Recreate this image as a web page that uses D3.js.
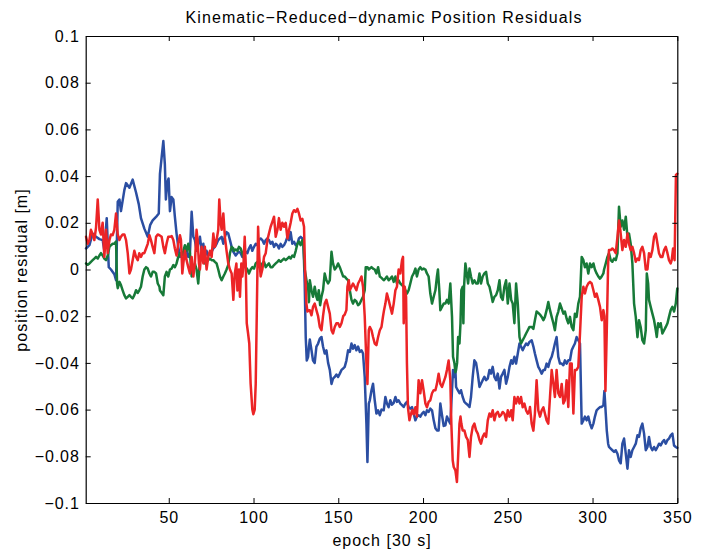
<!DOCTYPE html>
<html>
<head>
<meta charset="utf-8">
<script src="https://cdn.jsdelivr.net/npm/d3@7"></script>
<style>
  html, body { margin: 0; padding: 0; background: #fff; }
  svg { display: block; }
  text { font-family: "Liberation Sans", Arial, Helvetica, sans-serif; fill: #000; }
</style>
</head>
<body>
<svg id="chart" width="708" height="551"></svg>
<script>
// Residual series: [epoch, residual in millimetres]
const blueRes = [
  [1.2,9],[3.2,10.4],[5.1,15.4],[7.1,14],[9.1,13],[11.0,12.6],[12.0,8],[13.4,22],[14.6,1],[15.9,0],[17.9,-2],[18.9,-4.6],[19.9,29],[20.9,30],[21.8,25],[23.8,34],[24.8,37],[26.8,35],[28.7,38.5],[30.7,33],[32.3,28],[33.6,22],[35.6,17.5],[37.6,14],[39.0,19],[40.5,21],[42.5,22.5],[44.1,24],
  [44.8,41],[45.8,48],[46.8,55],[47.7,45],[48.3,30],[49.1,37],[49.9,39],[50.7,25],[51.7,31],[52.7,30],[53.6,22.6],[54.6,15.4],[55.6,9.7],[56.6,5.4],[57.6,7],[58.6,7.6],[59.5,4.7],[60.5,8],[61.5,5.4],[62.5,7],[63.5,24.7],[64.5,14],[65.4,12.6],[66.4,8],[67.4,11],[68.4,14],[69.4,8],[70.4,11],[71.3,5.4],[72.3,8],[73.3,6],[74.3,7],[75.3,7.6],[76.3,9],[77.2,9.7],[78.2,11],[79.2,12.6],[80.2,13.3],[81.2,14],[82.2,11],[83.1,14],[84.1,16],[85.1,15.4],[86.1,12.6],[87.1,9.7],[88.1,7.6],
  [89.5,6],[90.5,7],[91.4,7.6],[92.4,7],[93.4,5.4],[94.4,6],[95.4,7.6],[96.4,7],[97.3,9],[98.3,10.4],[99.3,8],[100.3,9.7],[101.3,11],[102.3,10.4],[103.2,12.6],[104.2,13.3],[105.2,12.6],[106.2,11],[107.2,12.6],[108.2,13.3],[109.1,12.6],[110.1,11],[111.1,11.9],[112.1,9.7],[113.1,11],[114.1,10.4],[115.0,9],[116.0,11],[117.0,9.7],[118.0,10.4],[119.0,11.9],[120.0,14],[121.0,12.6],[121.9,16],[122.9,11],[123.9,11.9],[124.9,10.4],[125.9,11],[126.8,13.3],[127.8,14],[128.8,13.3],[129.4,12.6],[130.2,-6],[130.8,-29],[131.4,-39],[132.2,-37.4],[132.7,-33],
  [133.2,-30],[134.2,-34.6],[135.1,-39],[136.1,-40],[137.1,-33],[138.1,-31.7],[139.1,-29.6],[140.1,-28.9],[141.0,-33],[142.0,-36],[143.0,-34.6],[144.0,-40],[145.0,-43],[146.0,-49],[146.9,-46.7],[147.9,-46],[148.9,-45],[149.9,-46],[150.9,-44.6],[151.9,-43],[152.9,-42.4],[153.8,-41.7],[154.8,-39],[155.8,-34.6],[156.8,-35.3],[157.8,-31.7],[158.7,-33.9],[159.7,-32.4],[160.7,-34.6],[161.7,-33],[162.7,-35.3],[163.7,-34.6],[164.6,-36],[165.6,-46],[166.6,-66],[167.2,-82.4],[168.0,-57.4],[168.6,-56],[169.6,-51.7],[170.5,-48.9],[171.5,-56],[172.5,-61.7],[173.5,-60.3],[174.5,-62.4],[175.5,-60],
  [176.8,-60.3],[177.8,-54.6],[178.7,-57.4],[179.7,-59],[180.7,-56],[181.7,-57.9],[182.7,-57.1],[183.7,-54.6],[184.6,-56.7],[185.6,-56],[186.6,-57.4],[187.6,-58.1],[188.6,-58.9],[189.6,-57.4],[190.5,-56.7],[191.5,-58.9],[192.5,-59.6],[193.5,-58.9],[194.5,-61.7],[195.5,-64.6],[196.4,-63],[197.4,-62.4],[198.4,-63],[199.4,-61.7],[200.4,-61],[201.4,-62.4],[202.3,-60.3],[203.3,-61],[204.3,-59.6],[205.3,-60.3],[206.3,-64.6],[207.3,-68],[208.2,-68.9],[209.2,-68.9],[210.2,-57.4],[211.2,-62.4],[212.2,-67],[213.2,-66.7],[214.1,-63],[215.1,-64.6],[216.1,-66],[217.1,-51.7],[217.7,-43],[218.5,-46],[219.1,-43],
  [219.5,-50.3],[220.5,-51.7],[221.5,-53],[222.4,-51.7],[223.4,-54.6],[224.4,-56.7],[225.4,-57.4],[226.4,-58],[227.4,-58.9],[228.3,-54.6],[229.3,-46],[230.3,-38.9],[231.3,-40],[232.3,-44.6],[233.3,-50.3],[234.2,-48.9],[235.2,-47.4],[236.2,-46],[237.2,-47.4],[238.2,-46.7],[239.2,-43],[240.1,-44.6],[241.1,-41.7],[242.1,-46],[243.1,-47.4],[244.1,-44.6],[245.1,-51],[246.0,-46],[247.0,-44.6],[248.0,-43],[249.0,-48.9],[250.0,-46],[251.0,-41.7],[252.0,-38.9],[252.9,-40.3],[253.9,-37.4],[254.9,-40.3],[255.9,-36],[256.9,-31.7],[257.8,-33],[258.8,-34.6],[259.8,-33],[260.8,-31.7],[261.8,-32.4],[262.8,-31],
  [264.1,-30.3],[265.1,-33],[266.0,-36],[267.0,-38.9],[268.0,-41.7],[269.0,-43],[270.0,-44.6],[271.0,-43],[271.9,-43],[272.9,-40.3],[273.9,-41.7],[274.9,-38.9],[275.9,-37.4],[276.9,-34.6],[277.8,-31.7],[278.8,-28.9],[279.8,-37.4],[280.8,-40.3],[281.8,-40.3],[282.8,-41],[283.7,-38.9],[284.7,-40.3],[285.7,-38.9],[286.7,-38.9],[287.7,-34.6],[288.7,-33],[289.6,-31.7],[290.6,-28.9],[291.6,-30.3],[292.6,-31.7],[293.6,-66],[294.6,-64.6],[295.5,-63],[296.5,-64.6],[297.5,-63],[298.5,-66],[299.5,-68],[300.5,-66],[301.4,-63],[302.4,-60.3],[303.4,-59.6],[304.4,-58.9],[305.4,-58.9],[306.4,-58.1],
  [307.0,-52],[307.8,-61.7],[308.4,-69],[309.2,-74.6],[309.7,-76],[310.7,-76.7],[311.7,-77.4],[312.7,-78.1],[313.7,-77.4],[314.7,-78.9],[315.6,-81.7],[316.6,-83],[317.6,-74.6],[318.6,-72.4],[319.6,-78.9],[320.6,-85.3],[321.5,-77.4],[322.5,-80.3],[323.5,-77.4],[324.5,-76],[325.5,-74.6],[326.5,-71],[327.4,-71.7],[328.4,-68],[329.4,-66],[330.4,-70.3],[331.4,-77.4],[332.4,-76],[333.3,-71.7],[334.3,-76],[335.3,-77.4],[336.3,-76],[337.3,-77.4],[338.3,-76],[339.2,-74.6],[340.2,-75.3],[341.2,-73.9],[342.2,-73],[343.2,-74.6],[344.2,-73],[345.1,-72.4],[346.1,-71],[347.1,-70.3],[348.1,-75.4],[349.1,-76],[350,-76.4]
];

const greenRes = [
  [1.2,2.6],[2.2,2],[3.2,2.6],[4.1,3.3],[5.1,4],[6.1,4.7],[7.1,5.4],[8.1,4.7],[9.1,6],[10.0,7],[11.0,6],[12.0,4.7],[13.0,4],[14.0,6],[15.0,9.7],[15.9,10.4],[16.9,11],[17.9,11],[18.9,12],[19.5,-6],[19.9,-8],[20.9,-5.3],[21.8,-6.7],[22.8,-8.9],[23.8,-11],[24.8,-12.4],[25.8,-11.7],[26.8,-11],[27.7,-11.7],[28.7,-12.4],[29.7,-11],[30.7,-8.9],[31.7,-10],[32.6,-8.9],[33.6,-7.4],[34.6,-3],[35.6,0],[36.6,1],[37.6,0.4],[38.6,-1.7],[39.5,-3],[40.5,-1],[41.5,-1],[42.5,-1.7],[43.5,-6],[44.5,-7.4],
  [44.8,-9],[45.8,-10],[46.8,-11],[47.7,-3],[48.7,-1],[49.7,-3],[50.7,0],[51.7,0.4],[52.7,1.9],[53.6,1],[54.6,2.6],[55.6,5.4],[56.6,7],[57.6,6],[58.6,8],[59.5,10.4],[60.5,8],[61.5,11],[62.5,7],[63.5,-3],[64.5,1],[65.4,2.6],[66.4,0],[67.4,-6],[68.4,4],[69.4,5.4],[70.4,4],[71.3,2.6],[72.3,3.3],[73.3,4],[74.3,4.7],[75.3,4],[76.3,4],[77.2,3.3],[78.2,2.6],[79.2,0],[80.2,-3],[81.2,-4.6],[82.2,-3],[83.1,-1.7],[84.1,0],[85.1,1.9],[86.1,7],[87.1,9.7],[88.1,9],
  [88.5,8],[89.5,8.6],[90.5,8],[91.4,9.7],[92.4,9],[93.4,6.9],[94.4,4.7],[95.4,1],[96.4,0],[97.3,-1.7],[98.3,0],[99.3,1],[100.3,0.4],[101.3,2.6],[102.3,3.3],[103.2,2.6],[104.2,1],[105.2,2.6],[106.2,3.3],[107.2,1],[108.2,1.9],[109.1,2.6],[110.1,1],[111.1,1],[112.1,1.9],[113.1,2.6],[114.1,3.3],[115.0,4],[116.0,3.3],[117.0,4],[118.0,4.7],[119.0,4],[120.0,4.7],[121.0,5.4],[121.9,4.7],[122.9,6],[123.9,5.4],[124.9,8],[125.9,11],[126.8,12],[127.8,10.4],[128.8,12.6],[129.4,11],[130.2,0],[131.4,-5.3],[132.2,-7.4],[132.7,-14],
  [133.2,-4.6],[134.2,-8.9],[135.1,-11.7],[136.1,-7.4],[137.1,-11.7],[137.7,-13],[138.5,-8.9],[139.3,-15.3],[140.1,-11.7],[141.0,-8.9],[142.0,-1.7],[143.0,-4.6],[144.0,-6],[145.0,-4.6],[146.0,7.6],[146.9,2.6],[147.9,0],[148.9,1],[149.9,2.6],[150.9,1],[151.9,-1],[152.9,-3],[153.8,-3],[154.8,-3.9],[155.8,-4.6],[156.8,-8.9],[157.8,-13],[158.7,-14.6],[159.7,-13],[160.7,-13.7],[161.7,-15.3],[162.7,-14.6],[163.7,-13],[164.6,-11.7],[165.6,-8.9],[166.2,1],[167.2,1],[168.0,0],[168.6,0.4],[169.6,1],[170.5,0.4],[171.5,0],[172.5,-1.7],[173.5,1],[174.5,-3],[175.5,-3.6],
  [176.8,-4.6],[177.8,-3.9],[178.7,-3],[179.7,-4.6],[180.7,-3.9],[181.7,-3],[182.7,-5.3],[183.7,-3],[184.6,-6],[185.6,-4.6],[186.6,-6],[187.6,-6.7],[188.6,-7.4],[189.6,-8.9],[190.5,-10.3],[191.5,-8.9],[192.5,-6],[193.5,-3],[194.5,-1.7],[195.5,0.4],[196.4,-3],[197.4,0],[198.4,1],[199.4,0],[200.4,0.4],[201.4,0],[202.3,-1.7],[203.3,-3],[204.3,-10.3],[205.3,-14.6],[206.3,-11.7],[207.3,-8.9],[208.2,-3],[208.8,0],[209.6,-8.9],[210.2,-17.4],[211.2,-16],[212.2,-14.6],[213.2,-14.6],[214.1,-13],[215.1,-14.6],[216.1,-6],[217.1,-20.3],[217.7,-37.4],[218.5,-40],[219.1,-44],
  [219.5,-43],[220.1,-40],[220.7,-28.9],[221.5,-31.7],[222.1,-23],[222.6,-8.9],[223.4,-7.4],[223.8,-23],[224.2,-7.4],[225.0,2.6],[225.8,-1.7],[226.6,-6],[227.4,0.4],[228.3,-3],[229.3,-6],[230.3,-4.6],[231.3,-6],[232.3,-6],[233.3,-1.7],[234.2,-6],[235.2,-3],[236.2,-1.7],[237.2,-1],[238.2,-6],[239.2,-7.4],[240.1,-10.3],[241.1,-13.9],[242.1,-11.7],[243.1,-11],[244.1,-8.9],[245.1,-4.6],[246.0,-11.7],[247.0,-13],[248.0,-7.4],[249.0,-4.6],[250.0,-14.6],[251.0,-6],[252.0,-13],[252.9,-14.6],[253.9,-23],[254.9,-6],[255.9,-14.6],[256.9,-28.9],[257.8,-31.7],[258.8,-30.3],[259.8,-28.9],[260.8,-27.4],[261.8,-26],[262.8,-24.6],
  [264.1,-24.6],[265.1,-25.4],[266.0,-21.7],[267.0,-18],[268.0,-18.6],[269.0,-19.3],[270.0,-20.3],[271.0,-21.7],[271.9,-20.3],[272.9,-17.4],[273.9,-13.9],[274.9,-17.4],[275.9,-20.3],[276.9,-23],[277.8,-26],[278.8,-20.3],[279.8,-18],[280.8,-14.6],[281.8,-16.7],[282.8,-18.9],[283.7,-18],[284.7,-21],[285.7,-23],[286.7,-20.3],[287.7,-24.6],[288.7,-26],[289.6,-18.9],[290.6,-20.3],[291.6,-14.6],[292.6,-11.7],[293.6,5.4],[294.6,4],[295.5,1],[296.5,2.6],[297.5,-1.7],[298.5,2.6],[299.5,1],[300.5,2.6],[301.4,0],[302.4,-1.7],[303.4,-3],[304.4,-3.9],[305.4,-3],[306.4,-1.7],
  [306.8,0],[307.8,2.6],[308.8,5.4],[309.7,7],[310.7,4],[311.7,3.3],[312.7,4.7],[313.7,4],[314.7,7],[315.6,26.9],[316.6,18.3],[317.6,21],[318.6,17],[319.6,22.6],[320.6,14],[321.5,15.4],[322.5,11],[323.5,2.6],[324.5,-14.6],[325.5,-20.3],[326.5,-29],[327.4,-21.7],[328.4,-24.6],[329.4,-30.3],[330.4,-31.7],[331.4,-26],[332.0,-1.7],[332.8,-6],[333.3,-13],[334.3,-16],[335.3,-18.9],[336.3,-21.7],[337.3,-26],[337.9,-28.9],[338.7,-23],[339.2,-24.6],[340.2,-23],[341.2,-27.4],[342.2,-26],[343.2,-24.6],[344.2,-23],[345.1,-20.3],[346.1,-17.4],[347.1,-16],[348.1,-18],[349.1,-14.6],[350,-8.1]
];

const redRes = [
  [1.2,14],[2.2,11],[3.2,12.6],[4.1,17],[5.1,15],[6.1,12.6],[7.1,18],[8.1,30],[9.1,17],[10.0,15],[11.0,20],[12.0,5.4],[13.0,17],[14.0,7],[15.0,12.6],[15.9,15],[16.9,14.7],[17.9,17],[18.9,24],[19.9,15],[20.9,12.6],[21.8,14],[22.8,15],[23.8,15],[24.8,12.6],[25.8,7],[26.8,-1.7],[27.7,0],[28.7,4],[29.7,8],[30.7,5.4],[31.7,4],[32.6,7],[33.6,5.4],[34.6,7],[35.6,7],[36.6,9],[37.6,11],[38.6,14.7],[39.5,12.6],[40.5,9.7],[41.5,7],[42.5,14],[43.5,15],[44.5,14.7],
  [45.8,14],[46.8,9.7],[47.7,7],[48.7,11],[49.7,14],[50.7,14],[51.7,14.3],[52.7,12.6],[53.6,9],[54.6,6],[55.6,11],[56.6,14.7],[57.2,12.6],[58.0,-1.7],[58.6,2.6],[59.5,8],[60.5,4],[61.5,1],[62.5,-1.7],[63.5,5.4],[64.5,-3],[65.4,2.6],[66.4,17],[67.0,12.6],[67.8,2.6],[68.4,0],[69.4,9.7],[70.4,2.6],[71.3,9.7],[72.3,0],[73.3,5.4],[74.3,8],[75.3,5.4],[76.3,15.4],[77.2,9.7],[78.2,12.6],[79.2,17],[79.8,30],[80.6,20],[81.2,17],[82.2,24],[83.1,14],[84.1,8],[85.1,2.6],[86.1,0],[87.1,-1.7],[88.1,-13],
  [88.9,-2],[89.9,2.6],[90.5,-9],[91.4,0],[92.0,-11.7],[92.8,2.6],[93.4,-3],[94.0,1],[94.8,14],[95.4,2.6],[96.0,-23],[96.8,-27.4],[97.5,-31.7],[98.3,-49],[99.3,-60],[99.9,-62],[100.7,-60],[101.3,-49],[101.9,-20],[102.7,18.3],[103.4,5.4],[104.2,-3],[105.2,0],[106.2,5.4],[107.2,7],[108.2,12.6],[109.1,15.4],[110.1,18.3],[111.1,20.4],[112.1,22.6],[113.1,14],[114.1,17],[115.0,22],[116.0,17],[117.0,20],[118.0,18.3],[119.0,20],[120.0,13.3],[121.0,17],[121.9,20],[122.9,24],[123.9,25.4],[124.9,24.7],[125.9,26],[126.8,24],[127.8,21],[128.8,21.7],[129.8,18.3],[130.4,0],[131.2,-14.6],[131.8,-18],[132.7,-17.4],
  [133.2,-17.4],[134.2,-19.6],[135.1,-16],[136.1,-14.6],[137.1,-17.4],[138.1,-20],[139.1,-24.6],[140.1,-26],[141.0,-20],[142.0,-14.6],[143.0,-13],[144.0,-16],[145.0,-18.9],[146.0,-26],[146.9,-27.4],[147.9,-24.6],[148.9,-23],[149.9,-23],[150.9,-24.6],[151.9,-23],[152.9,-20],[153.8,-19.3],[154.8,-17.4],[155.4,-7.4],[156.2,-4.6],[156.8,-8.9],[157.8,-7.4],[158.7,-6],[159.7,-7.4],[160.7,-8.9],[161.7,-6],[162.7,-4.6],[163.7,-3],[164.6,-7.4],[165.6,-20],[166.6,-40],[167.2,-49],[168.0,-26],[168.6,-24.6],[169.6,-26],[170.5,-28.9],[171.5,-31.7],[172.5,-32.4],[173.5,-28.9],[174.5,-26],[175.5,-24.6],[176.4,-20],
  [177.0,-17.4],[177.8,-14.6],[178.7,-10.3],[179.7,-13],[180.7,-16],[181.7,-18.9],[182.7,-14.6],[183.7,-8.9],[184.6,-7.4],[185.6,0],[186.6,-1.7],[187.6,4],[188.2,5.4],[188.6,-23],[189.2,-7.4],[190.0,-11.7],[190.5,-40],[191.1,-59],[192.0,-64.6],[192.5,-63],[193.5,-60.3],[194.5,-62],[195.5,-59],[196.4,-63],[197.4,-47.4],[198.4,-53],[199.4,-47.4],[200.4,-52],[201.4,-57.4],[202.3,-59],[203.3,-56.7],[204.3,-56],[205.3,-53],[206.3,-51.7],[207.3,-51.7],[208.2,-49],[209.2,-44.6],[210.2,-49],[211.2,-50.3],[212.2,-48.1],[213.2,-46],[214.1,-43],[215.1,-39],[216.1,-47.4],[216.7,-66],[217.5,-81.7],[218.1,-84.6],[219.1,-86],[220.0,-91],
  [220.7,-80],[221.5,-66],[222.1,-63],[222.6,-66],[223.4,-68.9],[224.4,-68.9],[225.4,-71.7],[226.4,-73],[227.4,-80.3],[228.3,-71.7],[229.3,-67.4],[230.3,-66],[231.3,-68.9],[232.3,-70.3],[233.3,-73],[234.2,-74.6],[235.2,-71.7],[236.2,-70.3],[237.2,-71.7],[238.2,-64.6],[239.2,-61.7],[240.1,-63],[241.1,-60.3],[242.1,-64.6],[243.1,-61.7],[244.1,-61],[245.1,-63],[246.0,-62.4],[247.0,-61],[248.0,-61.7],[249.0,-64.6],[250.0,-60.3],[251.0,-63],[252.0,-60.3],[252.9,-64.6],[253.9,-54.6],[254.9,-57.4],[255.9,-54.6],[256.9,-57.4],[257.8,-54.6],[258.8,-59],[259.8,-57.4],[260.8,-60.3],[261.8,-61.7],[262.8,-60.3],
  [263.1,-58.9],[264.1,-66],[265.1,-69],[266.0,-61.7],[267.0,-47.4],[268.0,-60.3],[269.0,-63],[270.0,-60.3],[271.0,-59],[271.9,-61.7],[272.9,-64.6],[273.9,-66],[274.9,-54.6],[275.9,-43],[276.9,-48.9],[277.8,-54.6],[278.8,-43],[279.8,-53],[280.8,-54.6],[281.8,-49],[282.8,-57.4],[283.7,-56],[284.7,-47.4],[285.7,-58.9],[286.7,-40.3],[287.7,-40.3],[288.7,-61.7],[289.6,-43],[290.6,-43],[291.6,-41.7],[292.6,-27.4],[293.6,-11.7],[294.6,-7.4],[295.5,-10.3],[296.5,-7.4],[297.5,-6],[298.5,-5.3],[299.5,-6],[300.5,-8.9],[301.4,-11.7],[302.4,-10.3],[303.4,-13],[304.4,-16],[305.4,-21.7],[306.4,-17.4],
  [307.0,-20],[307.6,-52],[308.4,-26],[309.2,2.6],[309.7,8.3],[310.7,8.3],[311.7,9],[312.7,8.3],[313.7,7],[314.7,14],[315.6,21],[316.2,18.3],[316.6,15.4],[317.6,8.3],[318.6,12.6],[319.6,9.7],[320.6,15.4],[321.5,11],[322.5,8.3],[323.5,9.7],[324.5,7],[325.5,3.3],[326.5,4.7],[327.4,4],[328.4,8.3],[329.4,9.7],[330.4,7],[331.4,0],[332.4,0],[333.3,7],[334.3,5.4],[335.3,8.3],[336.3,14],[337.3,15.4],[338.3,11],[339.2,7],[340.2,5.4],[341.2,5.4],[342.2,8.3],[343.2,9.7],[344.2,7],[345.1,4],[346.1,2.6],[346.7,4],[347.5,9],[348.4,4],[349.2,40.5],[350,41]
];

const seriesList = [
  { name: "blue",  values: blueRes,  color: "#2b4ea2" },
  { name: "green", values: greenRes, color: "#177a38" },
  { name: "red",   values: redRes,   color: "#ec2426" }
];

const xTicks = [50, 100, 150, 200, 250, 300, 350];
const yTicks = [0.1, 0.08, 0.06, 0.04, 0.02, 0, -0.02, -0.04, -0.06, -0.08, -0.1];
const yTickLabels = ["0.1", "0.08", "0.06", "0.04", "0.02", "0", "\u22120.02", "\u22120.04", "\u22120.06", "\u22120.08", "\u22120.1"];

const titleText = "Kinematic\u2212Reduced\u2212dynamic Position Residuals";
const xLabelText = "epoch [30 s]";
const yLabelText = "position residual [m]";

// Plot frame
const plot = { left: 85.7, right: 677.3, top: 36, bottom: 503 };
const svg = d3.select("#chart");

const x = d3.scaleLinear().domain([1, 350]).range([plot.left, plot.right]);
const y = d3.scaleLinear().domain([-0.1, 0.1]).range([plot.bottom, plot.top]);

// Data lines (blue, green, red draw order)
const line = d3.line()
  .x(d => x(d[0]))
  .y(d => y(d[1] / 1000));

svg.append("g")
  .selectAll("path")
  .data(seriesList)
  .join("path")
  .attr("fill", "none")
  .attr("stroke", d => d.color)
  .attr("stroke-width", 2.5)
  .attr("stroke-linejoin", "round")
  .attr("stroke-linecap", "round")
  .attr("d", d => line(d.values));

// Boxed axes with inward ticks on all four sides
const tickLen = 5;
const labelFmt = d => yTickLabels[yTicks.indexOf(d)];

const gLeft = svg.append("g")
  .attr("transform", `translate(${plot.left},0)`)
  .call(d3.axisLeft(y).tickValues(yTicks).tickFormat(labelFmt)
    .tickSizeInner(-tickLen).tickSizeOuter(0).tickPadding(6));

const gBottom = svg.append("g")
  .attr("transform", `translate(0,${plot.bottom})`)
  .call(d3.axisBottom(x).tickValues(xTicks).tickFormat(d3.format("d"))
    .tickSizeInner(-tickLen).tickSizeOuter(0).tickPadding(9));

const gRight = svg.append("g")
  .attr("transform", `translate(${plot.right},0)`)
  .call(d3.axisRight(y).tickValues(yTicks).tickFormat("")
    .tickSizeInner(-tickLen).tickSizeOuter(0));

const gTop = svg.append("g")
  .attr("transform", `translate(0,${plot.top})`)
  .call(d3.axisTop(x).tickValues(xTicks).tickFormat("")
    .tickSizeInner(-tickLen).tickSizeOuter(0));

[gLeft, gBottom, gRight, gTop].forEach(g => {
  g.selectAll(".domain").attr("stroke", "#000").attr("stroke-width", 1.2);
  g.selectAll(".tick line").attr("stroke", "#000").attr("stroke-width", 1);
  g.selectAll(".tick text")
    .attr("fill", "#000")
    .style("font-family", '"Liberation Sans", Arial, Helvetica, sans-serif')
    .style("font-size", "16px")
    .style("letter-spacing", "0.9px");
});

// Title and axis labels
svg.append("text")
  .attr("x", 384)
  .attr("y", 23)
  .attr("text-anchor", "middle")
  .style("font-size", "16px")
  .style("letter-spacing", "1.1px")
  .text(titleText);

svg.append("text")
  .attr("x", 382)
  .attr("y", 546)
  .attr("text-anchor", "middle")
  .style("font-size", "16px")
  .style("letter-spacing", "1px")
  .text(xLabelText);

svg.append("text")
  .attr("transform", "translate(27,270) rotate(-90)")
  .attr("text-anchor", "middle")
  .style("font-size", "16px")
  .style("letter-spacing", "1px")
  .text(yLabelText);
</script>
</body>
</html>
